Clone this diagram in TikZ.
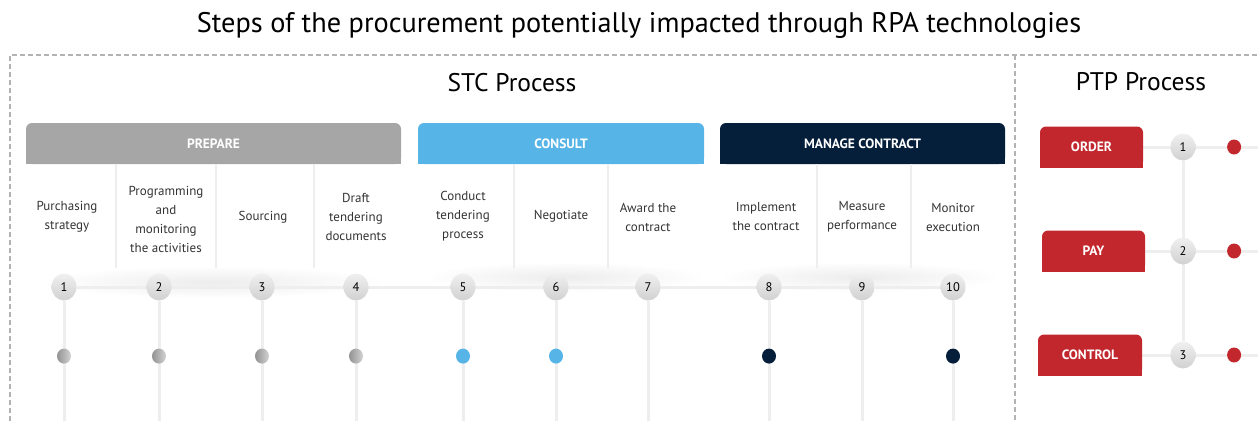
\documentclass[tikz,border=0pt]{standalone}
\usepackage{fontspec}
\setmainfont{PT Sans}
\usetikzlibrary{positioning,backgrounds,fadings,shapes.geometric}

\definecolor{prepgray}{HTML}{A6A6A6}
\definecolor{consultblue}{HTML}{56B4E6}
\definecolor{contractnavy}{HTML}{051F3B}
\definecolor{ptpred}{HTML}{C1272D}
\definecolor{railgray}{HTML}{EEEEEE}
\definecolor{framegray}{HTML}{B3B3B3}

\tikzfading[name=softshade, inner color=transparent!40, outer color=transparent!100]

\begin{document}
\begin{tikzpicture}[x=1pt, y=-1pt, semithick]
		
		\useasboundingbox (0,0) rectangle (1258,421);
		
		\tikzstyle{header}=[rounded corners=6pt, text=white, inner sep=0pt, minimum height=41pt, font=\fontsize{13.5}{16}\selectfont\bfseries]
		\tikzstyle{task}=[align=center, text=black!80, font=\fontsize{13}{19}\selectfont]
		\tikzstyle{num}=[ellipse, minimum width=25pt, minimum height=27pt, inner sep=0pt, top color=black!6, bottom color=black!18, font=\fontsize{12.5}{14}\selectfont]
		\tikzstyle{dot}=[ellipse, minimum width=14pt, minimum height=15pt, inner sep=0pt]
		\tikzstyle{rail}=[line width=3pt, draw=railgray]
		\tikzstyle{frame}=[draw=framegray, line width=1.1pt, dash pattern=on 5pt off 3pt]
		
		% titles
		\node[font=\fontsize{28.3}{32}\selectfont] (title) at (639,25) {Steps of the procurement potentially impacted through RPA technologies};
		\node[font=\fontsize{25.5}{28}\selectfont] (stc) at (512,83) {STC Process};
		\node[font=\fontsize{25.5}{28}\selectfont] (ptp) at (1141,82) {PTP Process};
		
		% dashed frame and divider
		\draw[frame] (10,421) -- (10,55) -- (1258,55);
		\draw[frame] (1015,55) -- (1015,421);
		
		% STC phase headers
		\node[header, fill=prepgray, minimum width=375pt]     (prep) at (213.5,143.5) {PREPARE};
		\node[header, fill=consultblue, minimum width=286pt]  (cons) at (561,143.5)   {CONSULT};
		\node[header, fill=contractnavy, minimum width=285pt] (mng)  at (862.5,143.5) {MANAGE\ CONTRACT};
		
		% column separators
		\draw[railgray, line width=2pt] (116,164) -- (116,268);
		\draw[railgray, line width=2pt] (216,164) -- (216,268);
		\draw[railgray, line width=2pt] (314,164) -- (314,268);
		\draw[railgray, line width=2pt] (514,164) -- (514,268);
		\draw[railgray, line width=2pt] (608,164) -- (608,268);
		\draw[railgray, line width=2pt] (817,164) -- (817,268);
		\draw[railgray, line width=2pt] (911,164) -- (911,268);
		
		% activities
		\node[task] (t1)  at (67,217)    {Purchasing\\strategy};
		\node[task] (t2)  at (166,219.5) {Programming\\and\\monitoring\\the activities};
		\node[task] (t3)  at (263,217)   {Sourcing};
		\node[task] (t4)  at (356,217)   {Draft\\tendering\\documents};
		\node[task] (t5)  at (463,216)   {Conduct\\tendering\\process};
		\node[task] (t6)  at (561,216)   {Negotiate};
		\node[task] (t7)  at (648,217.5) {Award the\\contract};
		\node[task] (t8)  at (766,216.5) {Implement\\the contract};
		\node[task] (t9)  at (862,216.5) {Measure\\performance};
		\node[task] (t10) at (953,217.5) {Monitor\\execution};
		
		% numbered steps
		\node[num] (n1)  at (64,287)  {1};
		\node[num] (n2)  at (159,287) {2};
		\node[num] (n3)  at (262,287) {3};
		\node[num] (n4)  at (356,287) {4};
		\node[num] (n5)  at (463,287) {5};
		\node[num] (n6)  at (556,287) {6};
		\node[num] (n7)  at (648,287) {7};
		\node[num] (n8)  at (769,287) {8};
		\node[num] (n9)  at (862,287) {9};
		\node[num] (n10) at (953,287) {10};
		
		\node[dot, left color=gray!85, right color=gray!35] (d1)  [below=47.5pt of n1]  {};
		\node[dot, left color=gray!85, right color=gray!35] (d2)  [below=47.5pt of n2]  {};
		\node[dot, left color=gray!85, right color=gray!35] (d3)  [below=47.5pt of n3]  {};
		\node[dot, left color=gray!85, right color=gray!35] (d4)  [below=47.5pt of n4]  {};
		\node[dot, fill=consultblue]  (d5)  [below=47.5pt of n5]  {};
		\node[dot, fill=consultblue]  (d6)  [below=47.5pt of n6]  {};
		\node[dot, fill=contractnavy] (d8)  [below=47.5pt of n8]  {};
		\node[dot, fill=contractnavy] (d10) [below=47.5pt of n10] {};
		
		\coordinate (b1)  at (64,421);
		\coordinate (b2)  at (159,421);
		\coordinate (b3)  at (262,421);
		\coordinate (b4)  at (356,421);
		\coordinate (b5)  at (463,421);
		\coordinate (b6)  at (556,421);
		\coordinate (b7)  at (648,421);
		\coordinate (b8)  at (769,421);
		\coordinate (b9)  at (862,421);
		\coordinate (b10) at (953,421);
		
		% PTP process
		\node[header, fill=ptpred, minimum width=103pt] (order) at (1091.5,147) {ORDER};
		\node[header, fill=ptpred, minimum width=103pt] (pay)   at (1093.5,251) {PAY};
		\node[header, fill=ptpred, minimum width=104pt] (ctrl)  at (1090,355)   {CONTROL};
		
		\node[num] (p1) at (1183,147) {1};
		\node[num] (p2) at (1183,251) {2};
		\node[num] (p3) at (1183,355) {3};
		
		\node[dot, fill=ptpred] (r1) [right=31pt of p1] {};
		\node[dot, fill=ptpred] (r2) [right=31pt of p2] {};
		\node[dot, fill=ptpred] (r3) [right=31pt of p3] {};
		
		\coordinate (e1) at (1258,147);
		\coordinate (e2) at (1258,251);
		\coordinate (e3) at (1258,355);
		
		\begin{scope}[on background layer]
			% square off the lower corners of the headers
			\fill[prepgray]     (prep.west)  rectangle (prep.south east);
			\fill[consultblue]  (cons.west)  rectangle (cons.south east);
			\fill[contractnavy] (mng.west)   rectangle (mng.south east);
			\fill[ptpred]       (order.west) rectangle (order.south east);
			\fill[ptpred]       (pay.west)   rectangle (pay.south east);
			\fill[ptpred]       (ctrl.west)  rectangle (ctrl.south east);
			
			% soft shadow under the activity blocks
			\fill[black!12, path fading=softshade] (40,266) rectangle (385,298);
			\fill[black!12, path fading=softshade] (425,262) rectangle (705,292);
			\fill[black!12, path fading=softshade] (720,262) rectangle (1000,292);
			
			\draw[rail] (n1) -- (n10);
			\draw[rail] (n1) -- (b1);
			\draw[rail] (n2) -- (b2);
			\draw[rail] (n3) -- (b3);
			\draw[rail] (n4) -- (b4);
			\draw[rail] (n5) -- (b5);
			\draw[rail] (n6) -- (b6);
			\draw[rail] (n7) -- (b7);
			\draw[rail] (n8) -- (b8);
			\draw[rail] (n9) -- (b9);
			\draw[rail] (n10) -- (b10);
			
			\draw[rail] (order.east) -- (e1);
			\draw[rail] (pay.east) -- (e2);
			\draw[rail] (ctrl.east) -- (e3);
			\draw[rail] (p1) -- (p3);
		\end{scope}
		
	\end{tikzpicture}
\end{document}
